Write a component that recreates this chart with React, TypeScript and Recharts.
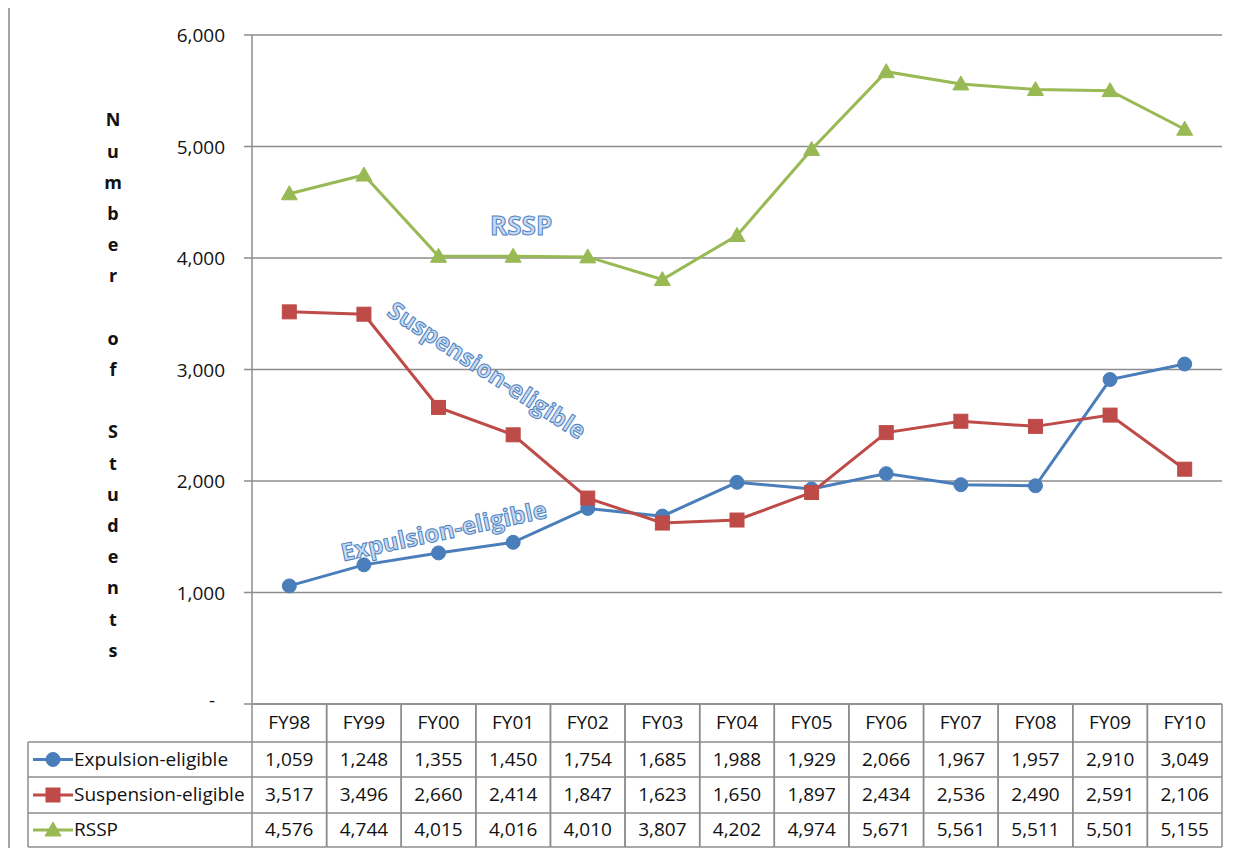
import React from 'react';
import { LineChart, Line, XAxis, YAxis, CartesianGrid, ReferenceDot, Label } from 'recharts';

const categories = ['FY98', 'FY99', 'FY00', 'FY01', 'FY02', 'FY03', 'FY04', 'FY05', 'FY06', 'FY07', 'FY08', 'FY09', 'FY10'];
const expulsionValues = [1059, 1248, 1355, 1450, 1754, 1685, 1988, 1929, 2066, 1967, 1957, 2910, 3049];
const suspensionValues = [3517, 3496, 2660, 2414, 1847, 1623, 1650, 1897, 2434, 2536, 2490, 2591, 2106];
const rsspValues = [4576, 4744, 4015, 4016, 4010, 3807, 4202, 4974, 5671, 5561, 5511, 5501, 5155];
const yTicks = [0, 1000, 2000, 3000, 4000, 5000, 6000];
const axisTitle = 'Number of Students';

type MarkerShape = 'circle' | 'square' | 'triangle';
const seriesInfo: { key: string; name: string; color: string; marker: MarkerShape; values: number[] }[] = [
  { key: 'expulsion', name: 'Expulsion-eligible', color: '#4a7ebb', marker: 'circle', values: expulsionValues },
  { key: 'suspension', name: 'Suspension-eligible', color: '#be4b48', marker: 'square', values: suspensionValues },
  { key: 'rssp', name: 'RSSP', color: '#98b954', marker: 'triangle', values: rsspValues },
];

const annotations = [
  { text: 'RSSP', x: 'FY01', y: 4300, dx: 8, angle: 0, size: 26 },
  { text: 'Suspension-eligible', x: 'FY00', y: 3000, dx: 49, angle: 33, size: 24 },
  { text: 'Expulsion-eligible', x: 'FY00', y: 1560, dx: 5, angle: -12, size: 24 },
];

const data = categories.map((c, i) => ({
  cat: c,
  expulsion: expulsionValues[i],
  suspension: suspensionValues[i],
  rssp: rsspValues[i],
}));

const FONT = '"Open Sans", "Noto Sans", sans-serif';
const GRID = '#8c8c8c';
const TEXT = '#111111';
const ROWS = [0, 38, 73, 109, 143];
const LEGEND_W = 224;
const fmt = (v: number) => v.toLocaleString('en-US');

function Marker({ shape, cx, cy, color }: { shape: MarkerShape; cx: number; cy: number; color: string }) {
  if (shape === 'circle') return <circle cx={cx} cy={cy} r={7} fill={color} stroke={color} />;
  if (shape === 'square') return <rect x={cx - 7} y={cy - 7} width={14} height={14} fill={color} stroke={color} />;
  return <polygon points={`${cx},${cy - 8} ${cx + 8},${cy + 6} ${cx - 8},${cy + 6}`} fill={color} stroke={color} />;
}

function TableTick(props: any) {
  const { x, y, payload, index } = props;
  const half = payload && payload.offset ? payload.offset : 37.3;
  const l = x - half;
  const r = x + half;
  const cat = payload.value;
  const i = categories.indexOf(cat);
  const left = l - LEGEND_W;
  return (
    <g fontFamily={FONT} fontSize={19} fill={TEXT}>
      <line x1={l} y1={y} x2={l} y2={y + ROWS[4]} stroke={GRID} strokeWidth={1.5} />
      <line x1={r} y1={y} x2={r} y2={y + ROWS[4]} stroke={GRID} strokeWidth={1.5} />
      {ROWS.slice(1).map((ry) => (
        <line key={ry} x1={l} x2={r} y1={y + ry} y2={y + ry} stroke={GRID} strokeWidth={1.5} />
      ))}
      <text x={x} y={y + ROWS[1] / 2 - 1} textAnchor="middle" dominantBaseline="central">{cat}</text>
      {seriesInfo.map((s, k) => (
        <text key={s.key} x={x} y={y + (ROWS[k + 1] + ROWS[k + 2]) / 2 - 1} textAnchor="middle" dominantBaseline="central">
          {fmt(s.values[i])}
        </text>
      ))}
      {index === 0 && (
        <g>
          <line x1={left} y1={y + ROWS[1]} x2={left} y2={y + ROWS[4]} stroke={GRID} strokeWidth={1.5} />
          {ROWS.slice(1).map((ry) => (
            <line key={'lg' + ry} x1={left} x2={l} y1={y + ry} y2={y + ry} stroke={GRID} strokeWidth={1.5} />
          ))}
          {seriesInfo.map((s, k) => {
            const cy = y + (ROWS[k + 1] + ROWS[k + 2]) / 2;
            return (
              <g key={'lg' + s.key}>
                <line x1={left + 5} x2={left + 45} y1={cy} y2={cy} stroke={s.color} strokeWidth={3} />
                <Marker shape={s.marker} cx={left + 25} cy={cy} color={s.color} />
                <text x={left + 46} y={cy - 1} textAnchor="start" fontSize={19} dominantBaseline="central">{s.name}</text>
              </g>
            );
          })}
        </g>
      )}
    </g>
  );
}

function YTick(props: any) {
  const { x, y, payload } = props;
  const v = payload.value;
  return (
    <text x={v === 0 ? x - 10 : x} y={v === 0 ? y - 4 : y} textAnchor="end" dominantBaseline="central" fontFamily={FONT} fontSize={19} fill={TEXT}>
      {v === 0 ? '-' : fmt(v)}
    </text>
  );
}

function StackedTitle(props: any) {
  const vb = props.viewBox || { x: 0, y: 0, width: 0, height: 0 };
  const chars = axisTitle.split('');
  const step = 31.2;
  const cx = vb.x + 103;
  const cy = vb.y + vb.height / 2 + 15;
  const start = cy - ((chars.length - 1) / 2) * step;
  return (
    <g fontFamily={FONT} fontSize={18} fontWeight="bold" fill={TEXT}>
      {chars.map((ch, i) => (
        <text key={i} x={cx} y={start + i * step} textAnchor="middle" dominantBaseline="central">{ch}</text>
      ))}
    </g>
  );
}

function makeDot(s: { marker: MarkerShape; color: string; key: string }) {
  return (p: any) => <Marker key={`${s.key}-${p.index}`} shape={s.marker} cx={p.cx} cy={p.cy} color={s.color} />;
}

function annotationShape(a: { text: string; dx: number; angle: number; size: number }) {
  return (p: any) => {
    const x = p.cx + a.dx;
    const y = p.cy;
    return (
      <text
        x={x}
        y={y}
        textAnchor="middle"
        dominantBaseline="central"
        transform={`rotate(${a.angle} ${x} ${y})`}
        fontFamily={FONT}
        fontSize={a.size}
        fontWeight="bold"
        fill="#c6daf3"
        stroke="#4f81bd"
        strokeWidth={1}
      >
        {a.text}
      </text>
    );
  };
}

export default function App() {
  return (
    <div
      style={{
        width: 1240,
        height: 842,
        marginTop: -2,
        paddingTop: 2,
        borderLeft: '2px solid #a5a5a5',
        boxSizing: 'border-box',
        background: '#fff',
        position: 'relative',
      }}
    >
      <div style={{ position: 'absolute', left: -2, top: 0, width: 1242, height: 2, background: '#a5a5a5' }} />
      <LineChart width={1238} height={840} data={data} margin={{ top: 27, right: 26, left: 0, bottom: 0 }}>
        <CartesianGrid vertical={false} stroke={GRID} strokeWidth={1.5} />
        <XAxis
          dataKey="cat"
          scale="band"
          interval={0}
          height={144}
          tickSize={0}
          tickMargin={0}
          tickLine={false}
          axisLine={{ stroke: GRID, strokeWidth: 1.5 }}
          tick={TableTick}
        />
        <YAxis
          width={242}
          domain={[0, 6000]}
          ticks={yTicks}
          interval={0}
          tickSize={8}
          tickMargin={19}
          tickLine={{ stroke: GRID, strokeWidth: 1.5 }}
          axisLine={{ stroke: GRID, strokeWidth: 1.5 }}
          tick={YTick}
        >
          <Label content={StackedTitle} />
        </YAxis>
        {seriesInfo.map((s) => (
          <Line
            key={s.key}
            type="linear"
            dataKey={s.key}
            name={s.name}
            stroke={s.color}
            strokeWidth={3}
            dot={makeDot(s)}
            activeDot={false}
            isAnimationActive={false}
          />
        ))}
        {annotations.map((a) => (
          <ReferenceDot key={a.text} x={a.x} y={a.y} r={0} ifOverflow="visible" shape={annotationShape(a)} />
        ))}
      </LineChart>
    </div>
  );
}
